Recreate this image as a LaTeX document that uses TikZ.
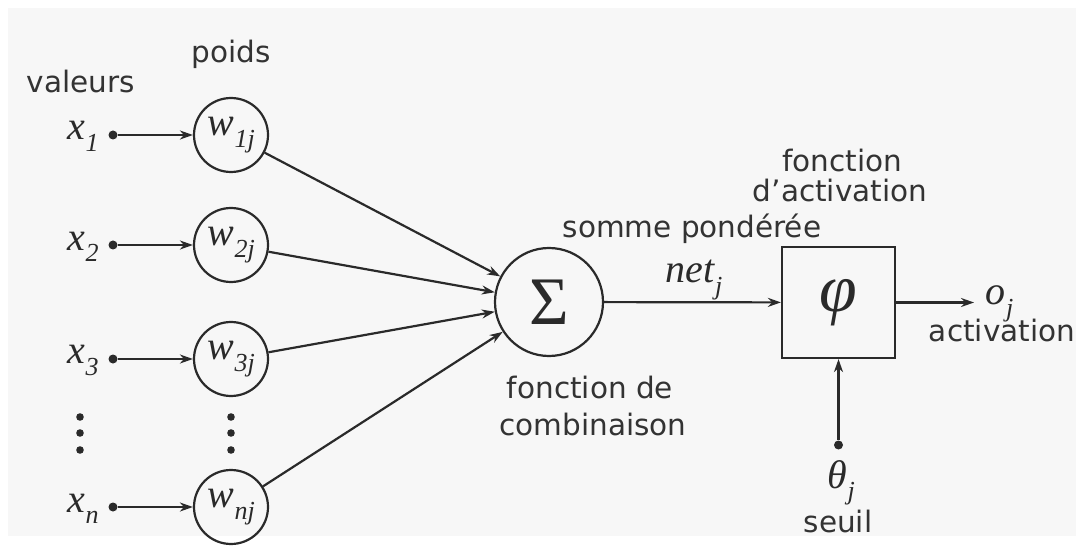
\documentclass[tikz,border=0pt]{standalone}
\usepackage{fontspec}
\setmainfont{DejaVu Sans}
\newfontfamily\mfont{Liberation Serif}
\usetikzlibrary{arrows.meta}

\definecolor{bgc}{HTML}{F7F7F7}
\definecolor{ink}{HTML}{2A2A2A}
\definecolor{txt}{HTML}{333333}

% italic symbol with a lowered italic index
\newcommand\mv[2]{{\mfont\itshape #1}\kern0.3pt\raisebox{-0.28em}{\fontsize{13}{13}\selectfont\mfont\itshape #2}}

\begin{document}
\begin{tikzpicture}[x=0.5pt,y=-0.5pt,
  lbl/.style={font=\fontsize{14.75}{15}\selectfont, text=txt, inner sep=0pt},
  mth/.style={font=\fontsize{20}{20}\selectfont, text=ink, inner sep=0pt},
  wt/.style={circle, draw=ink, line width=1.1pt, minimum size=37pt, inner sep=0pt,
             font=\fontsize{20}{20}\selectfont, text=ink},
  arr/.style={draw=ink, line width=1.1pt, -{Stealth[length=6.5pt,width=4.5pt]}},
  dot/.style={circle, fill=ink, inner sep=0pt, minimum size=4.5pt}
]
% canvas
\fill[white] (0,0) rectangle (1076,545);
\fill[bgc] (8,8) rectangle (1076,536);

% column headings
\node[lbl, anchor=base] (hval) at (81,93) {valeurs};
\node[lbl, anchor=base] (hpoids) at (231,63) {poids};

% inputs and weights
\foreach \i/\lab/\y in {1/1/135, 2/2/245, 3/3/359, n/n/507} {
  \node[mth, anchor=base east] (x\i) at (99,\y+5) {\mv{x}{\lab}};
  \node[dot] (d\i) at (113,\y) {};
  \node[wt] (w\i) at (231,\y) {\mv{w}{\lab j}};
}
\foreach \i in {1,2,3,n} \draw[arr] (d\i) -- (w\i);

% ellipsis dots
\foreach \k/\y in {a/417, b/433, c/450} {
  \node[dot, minimum size=3.8pt] (vx\k) at (80,\y) {};
  \node[dot, minimum size=3.8pt] (vw\k) at (231,\y) {};
}

% combination function
\node[circle, draw=ink, line width=1.1pt, minimum size=54pt, inner sep=0pt,
      font=\fontsize{34}{34}\selectfont, text=ink] (sig) at (549,302) {\mfont Σ};
\foreach \i in {1,2,3,n} \draw[arr] (w\i) -- (sig);
\node[lbl, anchor=base] (comb1) at (590,398) {fonction de};
\node[lbl, anchor=base] (comb2) at (593,435) {combinaison};

% weighted sum
\node[lbl, anchor=base] (somme) at (692,238) {somme pondérée};
\node[mth, anchor=base] (net) at (694,283) {\mv{net}{j}};

% activation function
\node[rectangle, draw=ink, line width=1.1pt, minimum width=56.5pt, minimum height=55.5pt,
      inner sep=0pt, font=\fontsize{34}{34}\selectfont, text=ink] (phi) at (838.5,302.5) {\mfont\itshape φ};
\draw[arr] (sig) -- (phi);
\node[lbl, anchor=base] (fa1) at (842,172) {fonction};
\node[lbl, anchor=base] (fa2) at (840,202) {d’activation};

% output
\coordinate (out) at (974,302.5);
\draw[arr] (phi.east |- out) -- (out);
\node[mth, anchor=base west] (oj) at (985,305) {\mv{o}{j}};
\node[lbl, anchor=base] (act) at (1002,342) {activation};

% threshold
\node[dot] (th) at (838.5,445) {};
\draw[arr] (th) -- (phi);
\node[mth, anchor=base] (thj) at (841,488) {\mv{θ}{j}};
\node[lbl, anchor=base] (seuil) at (838,532) {seuil};
\end{tikzpicture}
\end{document}
